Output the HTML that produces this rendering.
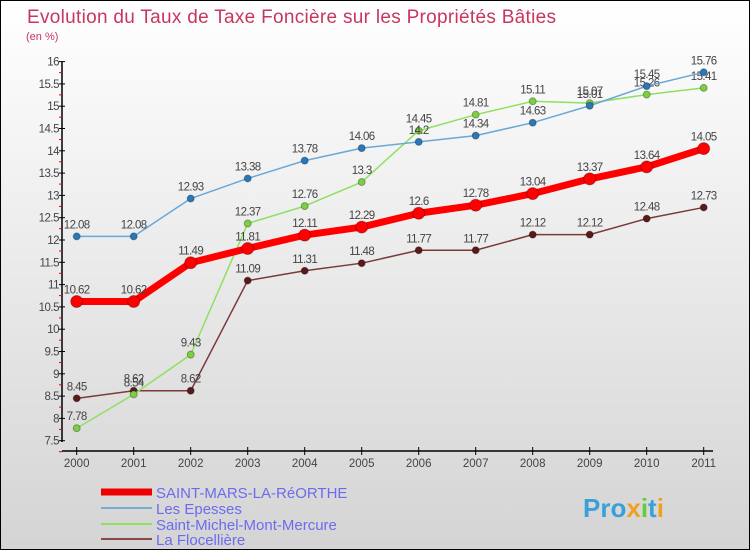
<!DOCTYPE html>
<html><head><meta charset="utf-8"><style>
body{margin:0}
#c{width:748px;height:548px;border:1px solid #000;background:linear-gradient(#fff,#d4d4d4);position:relative;font-family:"Liberation Sans",sans-serif;overflow:hidden}
</style></head><body>
<div id="c">
<svg id="s" width="748" height="548" style="position:absolute;left:0;top:0">
<text x="26" y="22" font-size="19" fill="#c8365f" textLength="529">Evolution du Taux de Taxe Foncière sur les Propriétés Bâties</text>
<text x="25" y="39" font-size="11" fill="#c8365f">(en %)</text>
<g id="ax"></g><g id="ser"></g>
<g>
<line x1="100" y1="491" x2="151" y2="491" stroke="#e00" stroke-width="7"/>
<text x="155" y="497" font-size="15" fill="#6b6bf0">SAINT-MARS-LA-RéORTHE</text>
<line x1="100" y1="507" x2="151" y2="507" stroke="#7aaed0" stroke-width="2"/>
<text x="155" y="513" font-size="15" fill="#6b6bf0">Les Epesses</text>
<line x1="100" y1="523" x2="151" y2="523" stroke="#8ee060" stroke-width="2"/>
<text x="155" y="529" font-size="15" fill="#6b6bf0">Saint-Michel-Mont-Mercure</text>
<line x1="100" y1="538" x2="151" y2="538" stroke="#8a4848" stroke-width="2"/>
<text x="155" y="544" font-size="15" fill="#6b6bf0">La Flocellière</text>
</g>
<text x="582" y="516" font-size="26" font-weight="bold" fill="#3aa0d8">Pro<tspan fill="#f0a020">x</tspan><tspan fill="#6c3">i</tspan>t<tspan fill="#f0a020">i</tspan></text>
</svg>
</div>
<script>
const years=["2000","2001","2002","2003","2004","2005","2006","2007","2008","2009","2010","2011"];
const yTicks=[7.5,8,8.5,9,9.5,10,10.5,11,11.5,12,12.5,13,13.5,14,14.5,15,15.5,16];
const smlr=[10.62,10.62,11.49,11.81,12.11,12.29,12.6,12.78,13.04,13.37,13.64,14.05];
const epesses=[12.08,12.08,12.93,13.38,13.78,14.06,14.2,14.34,14.63,15.01,15.45,15.76];
const smmm=[7.78,8.54,9.43,12.37,12.76,13.3,14.45,14.81,15.11,15.07,15.26,15.41];
const floc=[8.45,8.62,8.62,11.09,11.31,11.48,11.77,11.77,12.12,12.12,12.48,12.73];
const NS="http://www.w3.org/2000/svg";
const X=i=>75.7+i*57;
const Y=v=>439.7-(v-7.5)*44.6;
function mk(p,t,a){const e=document.createElementNS(NS,t);for(const k in a)e.setAttribute(k,a[k]);p.appendChild(e);return e;}
const ax=document.getElementById('ax');
mk(ax,'line',{x1:61,y1:61,x2:61,y2:441,stroke:'#000','stroke-width':1.5});
mk(ax,'line',{x1:61,y1:450,x2:712,y2:450,stroke:'#000','stroke-width':1.5});
yTicks.forEach(v=>{
 mk(ax,'line',{x1:58,y1:Y(v),x2:64,y2:Y(v),stroke:'#000'});
 mk(ax,'line',{x1:58,y1:Y(v)+11,x2:61,y2:Y(v)+11,stroke:'#e00'});
 const t=mk(ax,'text',{x:58,y:Y(v)+4,'font-size':11.5,fill:'#444','text-anchor':'end','letter-spacing':'-0.5'});
 t.textContent=String(v);
 
 
});
years.forEach((y,i)=>{
 mk(ax,'line',{x1:X(i),y1:446,x2:X(i),y2:454,stroke:'#000'});
 const t=mk(ax,'text',{x:X(i),y:466,'font-size':11.5,fill:'#444','text-anchor':'middle'});
 t.textContent=y;
 
 
});
const ser=document.getElementById('ser');
function draw(d,col,dot,w,r,name){
 const g=mk(ser,'g',{});
 
 
 mk(g,'polyline',{points:d.map((v,i)=>X(i)+','+Y(v)).join(' '),fill:'none',stroke:col,'stroke-width':w,'stroke-linejoin':'round'});
 d.forEach((v,i)=>{
  const c=mk(g,'circle',{cx:X(i),cy:Y(v),r:r,fill:dot,stroke:'rgba(0,0,0,0.3)'});
  
  
  const t=mk(g,'text',{x:X(i),y:Y(v)-8,'font-size':11.5,fill:'#444','text-anchor':'middle','letter-spacing':'-0.6'});
  t.textContent=String(v);
  
  
 });
}
draw(floc,'#7a3a3a','#5a1a1a',1.5,3.5,'series-la-flocelliere');
draw(smmm,'#8ee060','#7ad040',1.5,3.5,'series-saint-michel');
draw(epesses,'#6aa8d8','#2a78b8',1.5,3.5,'series-les-epesses');
draw(smlr,'#f00','#f00',7,6,'series-saint-mars');
</script>
</body></html>
